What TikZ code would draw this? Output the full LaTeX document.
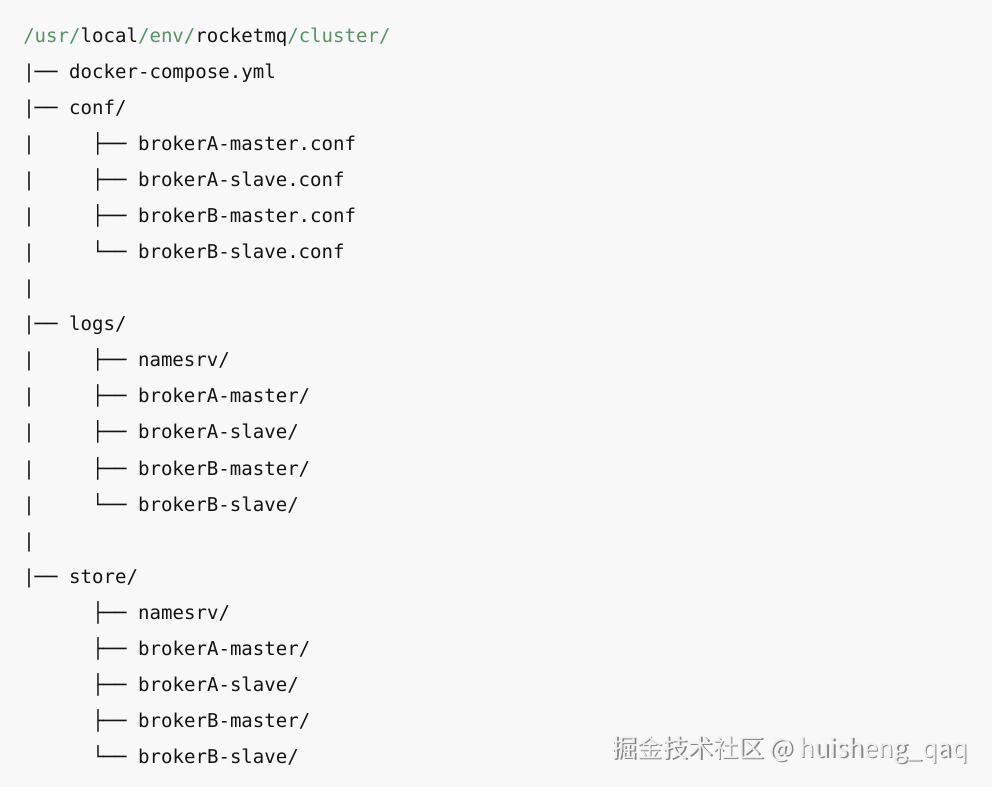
\documentclass[tikz,border=0pt]{standalone}
\usepackage{fontspec}
\setmonofont{DejaVu Sans Mono}
\newfontfamily\cjk{Noto Sans CJK SC}
\definecolor{pathgreen}{RGB}{82,150,98}
\definecolor{codebg}{RGB}{248,248,248}
\definecolor{codeink}{RGB}{20,20,20}
\definecolor{markgray}{RGB}{135,135,135}
\definecolor{markfill}{RGB}{240,240,240}
\begin{document}
\begin{tikzpicture}[x=0.75pt, y=-0.75pt,
    line node/.style={anchor=base west, inner sep=0pt, text=codeink,
        font=\ttfamily\fontsize{14.3}{17}\selectfont},
    mark node/.style={anchor=base east, inner sep=0pt,
        font=\cjk\fontsize{19}{22}\selectfont}]
\fill[codebg] (0,0) rectangle (992,787);
\useasboundingbox (0,0) rectangle (992,787);
\node [line node](root) at (23,43) {\textcolor{pathgreen}{/usr/}local\textcolor{pathgreen}{/env/}rocketmq\textcolor{pathgreen}{/cluster/}};
% top level
\node [line node](compose) at (23,79) {|──~docker-compose.yml};
\node [line node](conf) at (23,115) {|──~conf/};
\node [line node](confAm) at (23,151) {|~~~~~├──~brokerA-master.conf};
\node [line node](confAs) at (23,187) {|~~~~~├──~brokerA-slave.conf};
\node [line node](confBm) at (23,223) {|~~~~~├──~brokerB-master.conf};
\node [line node](confBs) at (23,259) {|~~~~~└──~brokerB-slave.conf};
\node [line node](gap1) at (23,295) {|};
\node [line node](logs) at (23,331) {|──~logs/};
\node [line node](logsN) at (23,367) {|~~~~~├──~namesrv/};
\node [line node](logsAm) at (23,403) {|~~~~~├──~brokerA-master/};
\node [line node](logsAs) at (23,439) {|~~~~~├──~brokerA-slave/};
\node [line node](logsBm) at (23,475) {|~~~~~├──~brokerB-master/};
\node [line node](logsBs) at (23,511) {|~~~~~└──~brokerB-slave/};
\node [line node](gap2) at (23,547) {|};
\node [line node](store) at (23,583) {|──~store/};
\node [line node](storeN) at (92,619) {├──~namesrv/};
\node [line node](storeAm) at (92,655) {├──~brokerA-master/};
\node [line node](storeAs) at (92,691) {├──~brokerA-slave/};
\node [line node](storeBm) at (92,727) {├──~brokerB-master/};
\node [line node](storeBs) at (92,763) {└──~brokerB-slave/};
% watermark
\node [mark node, text=markgray](markshadow) at (969.5,758.5) {掘金技术社区 @ huisheng\_qaq};
\node [mark node, text=markfill](mark) at (968,757) {掘金技术社区 @ huisheng\_qaq};
\end{tikzpicture}
\end{document}
